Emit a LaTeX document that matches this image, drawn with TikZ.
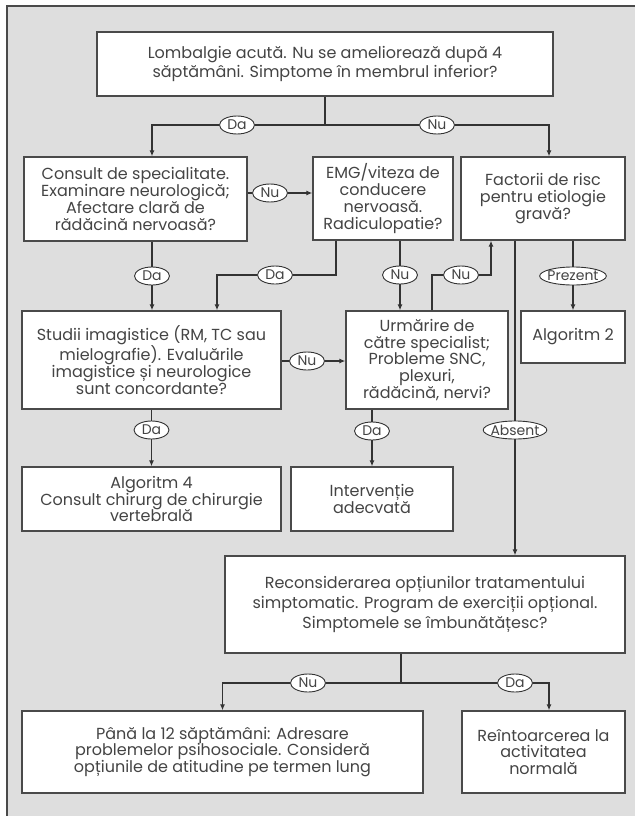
\documentclass[tikz,border=0pt]{standalone}
\usepackage{fontspec}
\setmainfont{Poppins}
\usetikzlibrary{arrows.meta,shapes.geometric}

\definecolor{bggray}{HTML}{DEDEDE}
\definecolor{ink}{HTML}{333333}
\definecolor{edge}{HTML}{4A4A4A}
\definecolor{txt}{HTML}{444444}

\tikzset{
	box/.style={draw=edge, line width=1.3pt, fill=white, align=center, text=txt, inner sep=1pt, font=\fontsize{16}{16.8}\selectfont},
	tag/.style={draw=ink, line width=0.9pt, fill=white, ellipse, inner xsep=-2pt, inner ysep=-1pt, minimum height=18pt, minimum width=35pt, text=txt, font=\fontsize{14}{14}\selectfont},
	line/.style={draw=ink, line width=1.9pt},
	conn/.style={line, ->}
}

\begin{document}
\begin{tikzpicture}[x=1pt, y=-1pt, >={Latex[length=6pt,width=5pt]}]
	\useasboundingbox (0,0) rectangle (635,816);
	\fill[bggray] (7,6) rectangle (635,816);
	\draw[edge, line width=1.2pt] (7,816) -- (7,6) -- (635,6);

	% boxes
	\node[box, minimum width=456pt, minimum height=64pt, font=\fontsize{16}{18.5}\selectfont] (top) at (325,64) {Lombalgie acută. Nu se ameliorează după 4\\ săptămâni. Simptome în membrul inferior?};
	\node[box, minimum width=223pt, minimum height=84pt] (consult) at (135.5,199) {Consult de specialitate.\\ Examinare neurologică;\\ Afectare clară de\\ rădăcină nervoasă?};
	\node[box, minimum width=140pt, minimum height=83pt] (emg) at (383,198.5) {EMG/viteza de\\ conducere\\ nervoasă.\\ Radiculopatie?};
	\node[box, minimum width=164pt, minimum height=83pt] (risc) at (543,198.5) {Factorii de risc\\ pentru etiologie\\ gravă?};
	\node[box, minimum width=259pt, minimum height=98pt] (studii) at (151.5,360) {Studii imagistice (RM, TC sau\\ mielografie). Evaluările\\ imagistice și neurologice\\ sunt concordante?};
	\node[box, minimum width=162pt, minimum height=98pt] (urmarire) at (427,360) {Urmărire de\\ către specialist;\\ Probleme SNC,\\ plexuri,\\ rădăcină, nervi?};
	\node[box, minimum width=104pt, minimum height=52pt] (alg2) at (573,337) {Algoritm 2};
	\node[box, minimum width=259pt, minimum height=64pt] (alg4) at (151.5,499) {Algoritm 4\\ Consult chirurg de chirurgie\\ vertebrală};
	\node[box, minimum width=162pt, minimum height=64pt] (interv) at (372,499) {Intervenție\\ adecvată};
	\node[box, minimum width=400pt, minimum height=97pt, font=\fontsize{16}{20}\selectfont] (recons) at (425,604.5) {Reconsiderarea opțiunilor tratamentului\\ simptomatic. Program de exerciții opțional.\\ Simptomele se îmbunătățesc?};
	\node[box, minimum width=401pt, minimum height=82pt] (pana) at (222.5,752) {Până la 12 săptămâni: Adresare\\ problemelor psihosociale. Consideră\\ opțiunile de atitudine pe termen lung};
	\node[box, minimum width=163pt, minimum height=82pt] (revenire) at (543.5,752) {Reîntoarcerea la\\ activitatea\\ normală};

	% answer tags
	\node[tag] (daA) at (237,125) {Da};
	\node[tag] (nuC) at (437,125) {Nu};
	\node[tag] (nuB) at (270,193) {Nu};
	\node[tag] (daD) at (152,276) {Da};
	\node[tag] (daB) at (275,275) {Da};
	\node[tag] (nuE) at (400,275) {Nu};
	\node[tag] (nuR) at (461,275) {Nu};
	\node[tag] (prez) at (573,276) {Prezent};
	\node[tag] (nuDE) at (307,361) {Nu};
	\node[tag] (daG) at (151.5,430) {Da};
	\node[tag] (daH) at (372,431) {Da};
	\node[tag] (abs) at (515,430) {Absent};
	\node[tag] (nuJ) at (308,683) {Nu};
	\node[tag] (daK) at (515,683) {Da};
	\coordinate (forkTop) at (325,125);
	\coordinate (bendB) at (336,275);
	\coordinate (forkBot) at (401,683);

	% connectors
	\draw[line] (top.south) -- (forkTop) -- (daA);
	\draw[conn] (daA) -| ([xshift=16.5pt]consult.north);
	\draw[line] (forkTop) -- (nuC);
	\draw[conn] (nuC) -| ([xshift=6pt]risc.north);
	\draw[line] (consult.east |- nuB) -- (nuB);
	\draw[conn] (nuB) -- (emg.west |- nuB);
	\draw[line] (consult.south -| daD) -- (daD);
	\draw[conn] (daD) -- (studii.north -| daD);
	\draw[line] (emg.south -| bendB) -- (bendB) -- (daB);
	\draw[conn] (daB) -| ([xshift=65.5pt]studii.north);
	\draw[line] (emg.south -| nuE) -- (nuE);
	\draw[conn] (nuE) -- (urmarire.north -| nuE);
	\draw[line] ([xshift=5pt]urmarire.north) |- (nuR);
	\draw[conn] (nuR) -| ([xshift=-52pt]risc.south);
	\draw[line] (risc.south -| prez) -- (prez);
	\draw[conn] (prez) -- (alg2.north);
	\draw[line] (risc.south -| abs) -- (abs);
	\draw[conn] (abs) -- (recons.north -| abs);
	\draw[line] (studii.east |- nuDE) -- (nuDE);
	\draw[conn] (nuDE) -- (urmarire.west |- nuDE);
	\draw[line] (studii.south) -- (daG);
	\draw[conn] (daG) -- (alg4.north);
	\draw[line] (urmarire.south -| daH) -- (daH);
	\draw[conn] (daH) -- (interv.north);
	\draw[line] (recons.south -| forkBot) -- (forkBot) -- (nuJ);
	\draw[conn] (nuJ) -| (pana.north);
	\draw[line] (forkBot) -- (daK);
	\draw[conn] (daK) -| ([xshift=5.5pt]revenire.north);
\end{tikzpicture}
\end{document}
